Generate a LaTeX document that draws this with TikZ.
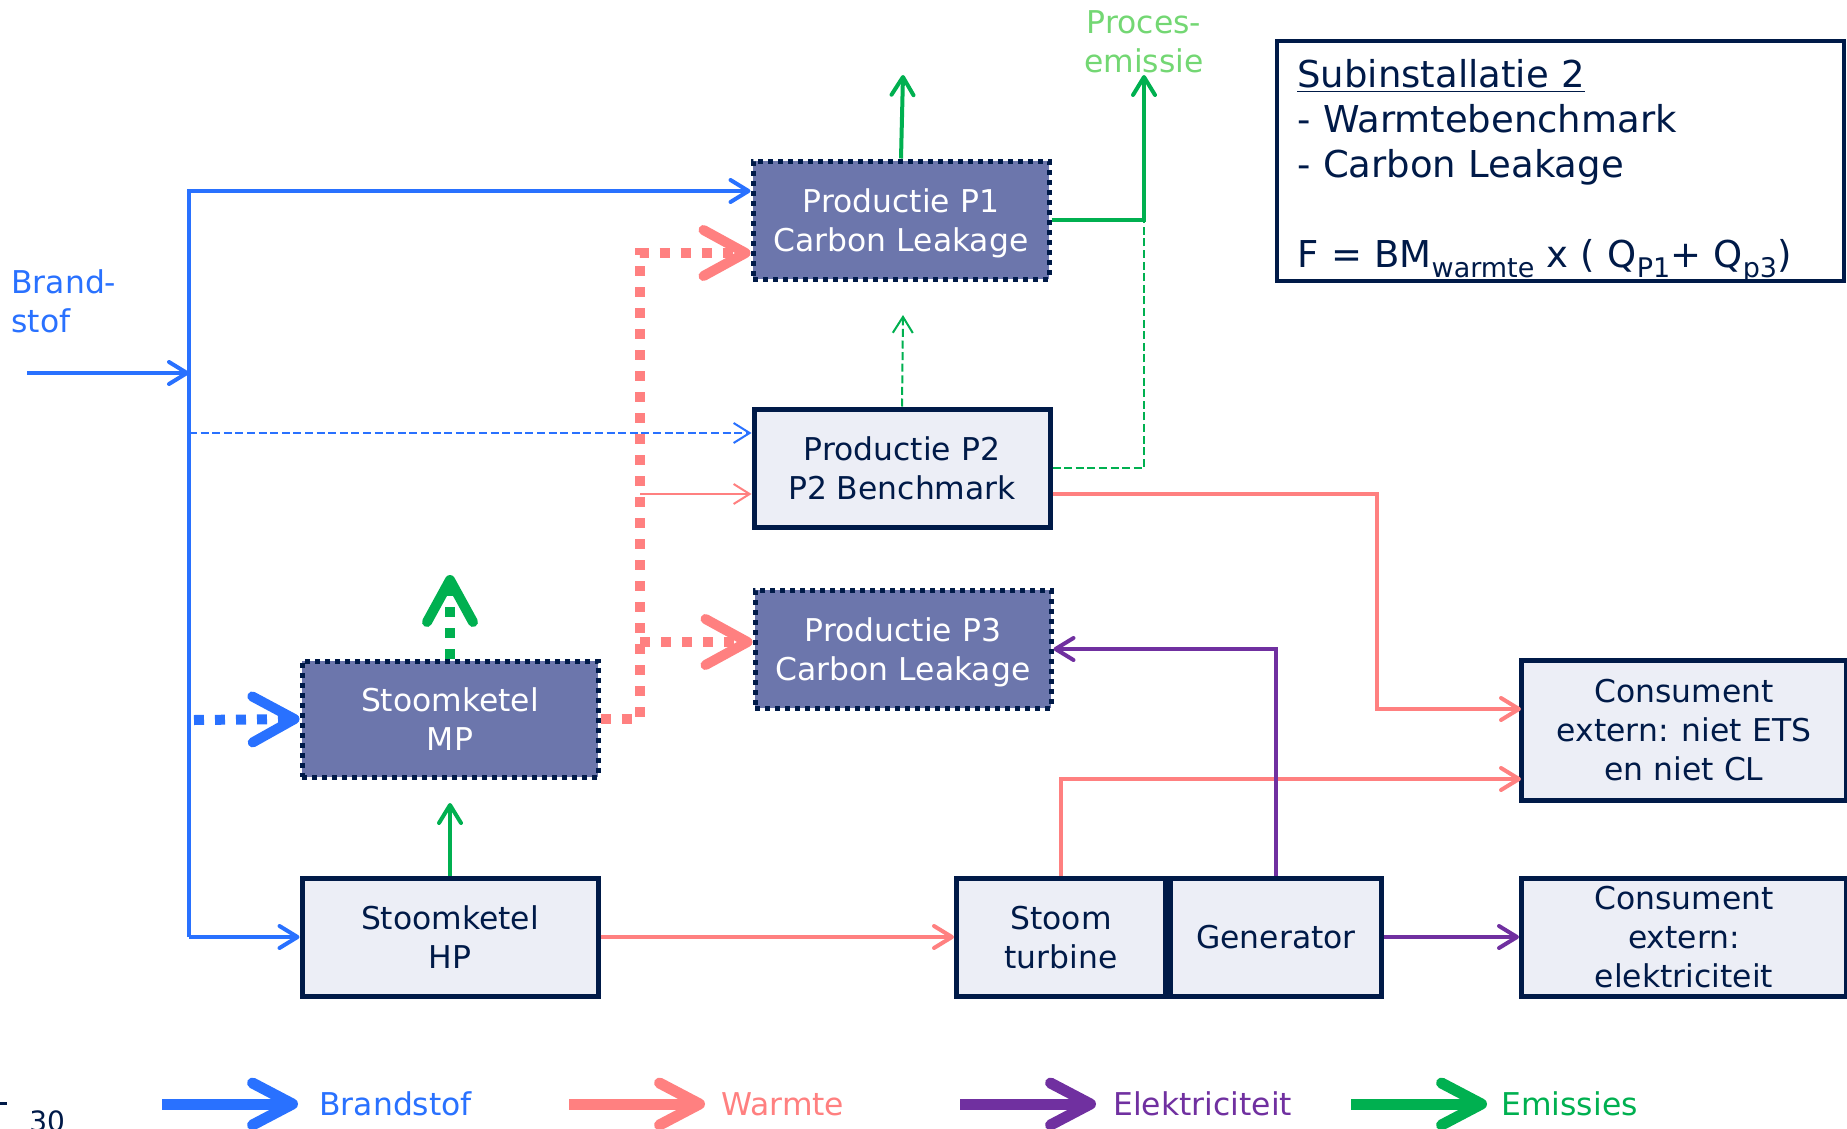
\documentclass[tikz,border=0pt]{standalone}
\usepackage{fontspec}
\setmainfont{DejaVu Sans}
\usepackage{xcolor}
\usetikzlibrary{arrows.meta}

\definecolor{kBrandstof}{RGB}{41,113,255}
\definecolor{kWarmte}{RGB}{255,128,128}
\definecolor{kElek}{RGB}{112,48,160}
\definecolor{kEmissie}{RGB}{0,176,80}
\definecolor{kProces}{RGB}{115,215,115}
\definecolor{kNavy}{RGB}{0,26,72}
\definecolor{kDonker}{RGB}{108,118,172}
\definecolor{kLicht}{RGB}{236,238,246}

\newcommand{\laag}[1]{\raisebox{-0.5ex}{\fontsize{13.5}{14}\selectfont #1}}

\begin{document}
\begin{tikzpicture}[x=0.5pt,y=-0.5pt,
   every node/.style={font=\fontsize{15.7}{19.5}\selectfont,align=center},
   productie/.style={draw=kNavy,line width=2.5pt,fill=kLicht,text=kNavy,
     minimum width=148pt,minimum height=59pt,inner sep=2pt,text depth=0pt},
   cl productie/.style={productie,fill=kDonker,text=white,dash pattern=on 2.5pt off 2.5pt},
   pijl/.style={-{Straight Barb[length=9pt,width=11pt,round]}},
   dunne pijl/.style={-{Straight Barb[length=8pt,width=10pt]}},
   grote pijl/.style={-{Straight Barb[length=21pt,width=23pt,round]}},
   brandstof/.style={draw=kBrandstof,line width=2pt},
   warmte/.style={draw=kWarmte,line width=2pt},
   elektra/.style={draw=kElek,line width=2pt},
   emissie/.style={draw=kEmissie,line width=2pt},
   dik/.style={line width=5pt,dash pattern=on 5pt off 5.5pt},
   dun/.style={line width=1pt,dash pattern=on 4pt off 1.8pt}]

  \clip (0,0) rectangle (1847,1129);

  % installaties
  \node[cl productie](P1) at (901,220) {Productie P1\\Carbon Leakage};
  \node[productie](P2) at (902,468) {Productie P2\\P2 Benchmark};
  \node[cl productie](P3) at (903,649) {Productie P3\\Carbon Leakage};
  \node[cl productie,minimum height=58pt](MP) at (450,719) {Stoomketel\\MP};
  \node[productie](HP) at (450,937) {Stoomketel\\HP};
  \node[productie,minimum width=104.5pt](ST) at (1061,937) {Stoom\\turbine};
  \node[productie,minimum width=105.5pt](GEN) at (1276,937) {Generator};
  \node[productie,minimum width=162.5pt,minimum height=70pt](C1) at (1684,730) {Consument\\extern: niet ETS\\en niet CL};
  \node[productie,minimum width=162.5pt](C2) at (1684,937) {Consument\\extern:\\elektriciteit};

  \node[draw=kNavy,line width=1.6pt,minimum width=283.5pt,minimum height=120pt](sub) at (1560.5,161) {};
  \node[text=kNavy,text width=264.5pt,align=left,inner xsep=10pt,anchor=west,
    font=\fontsize{18.5}{22.5}\selectfont](subtekst) at (1277,171.5)
    {\underline{Subinstallatie 2}\\- Warmtebenchmark\\- Carbon Leakage\\[22.5pt]
    F = BM\laag{warmte} x ( Q\laag{P1}+ Q\laag{p3})};

  \node[text=kBrandstof,align=left,anchor=west,inner sep=0pt](brand) at (11,301) {Brand-\\stof};
  \node[text=kProces,inner sep=0pt](proces) at (1144,42) {Proces-\\emissie};

  % brandstof
  \coordinate (bron) at (27,373);
  \coordinate (bus boven) at (189,191);
  \coordinate (bus in) at (189,373);
  \coordinate (bus p2) at (189,433);
  \coordinate (bus mp) at (194,720);
  \coordinate (bus onder) at (189,937);
  \draw[brandstof,pijl] (bron) -- (bus in);
  \draw[brandstof,pijl] (bus onder) -- (bus boven) -- (bus boven -| P1.west);
  \draw[brandstof,pijl] (bus onder) -- (HP.west);
  \draw[brandstof,dun,dunne pijl] (bus p2) -- (bus p2 -| P2.west);
  \draw[brandstof,dik,grote pijl] (bus mp) -- (MP.west);

  % warmte
  \coordinate (wk boven) at (640,253);
  \coordinate (wk p2) at (640,494);
  \coordinate (wk p3) at (640,642);
  \coordinate (wk onder) at (640,719);
  \coordinate (bocht) at (1377,709);
  \coordinate (c1 hoog) at (1521,709);
  \coordinate (c1 laag) at (1521,779);
  \draw[warmte,dik,grote pijl] (MP.east) -- (wk onder) -- (wk boven) -- (wk boven -| P1.west);
  \draw[warmte,dik,grote pijl] (wk p3) -- (wk p3 -| P3.west);
  \draw[warmte,line width=1pt,dunne pijl] (wk p2) -- (wk p2 -| P2.west);
  \draw[warmte,pijl] (wk p2 -| P2.east) -- (bocht |- wk p2) -- (bocht) -- (c1 hoog);
  \draw[warmte,pijl] (ST.north) |- (c1 laag);
  \draw[warmte,pijl] (HP.east) -- (ST.west);

  % elektriciteit
  \draw[elektra,pijl] (GEN.north) |- (P3.east);
  \draw[elektra,pijl] (GEN.east) -- (C2.west);

  % emissies
  \coordinate (uit p1) at (903,75);
  \coordinate (uit p2) at (903,315);
  \coordinate (uit mp) at (450,575);
  \coordinate (uit hp) at (450,803);
  \coordinate (knik) at (1144,220);
  \coordinate (uit proces) at (1144,75);
  \draw[emissie,pijl] (P1.north) -- (uit p1);
  \draw[emissie,pijl] (P1.east) -- (knik) -- (uit proces);
  \draw[emissie,dun] (P2.east) -- (P2.east -| knik) -- (knik);
  \draw[emissie,dun,dunne pijl] (P2.north) -- (uit p2);
  \draw[emissie,dik,grote pijl] (MP.north) -- (uit mp);
  \draw[emissie,pijl] (HP.north) -- (uit hp);

  % legenda
  \foreach \x/\kleur/\tekst/\gat in {162/kBrandstof/Brandstof/10.5,569/kWarmte/Warmte/8,
      960/kElek/Elektriciteit/8.5,1351/kEmissie/Emissies/7}{
    \coordinate (lg\x) at (\x,1104);
    \node[anchor=west,text=\kleur,inner xsep=\gat pt,inner ysep=0pt](lgt\x) at (\x+136,1104) {\tekst};
    \draw[draw=\kleur,line width=5.5pt,-{Straight Barb[length=20pt,width=21pt,round]}] (lg\x) -- (lgt\x.west);
  }

  % paginanummer
  \draw[kNavy,line width=1.5pt] (0,1103) -- (7,1103);
  \node[text=kNavy,anchor=base west,inner sep=0pt,font=\fontsize{14}{16}\selectfont](pagina) at (29,1131) {30};
\end{tikzpicture}
\end{document}
